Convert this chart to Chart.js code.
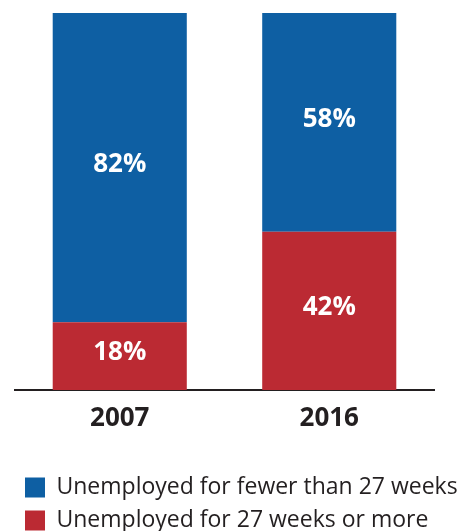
<!DOCTYPE html>
<html>
<head>
<meta charset="utf-8">
<script src="https://cdn.jsdelivr.net/npm/chart.js@4"></script>
<style>
  html, body { margin: 0; padding: 0; background: #fff; }
  #wrap { width: 467px; height: 531px; position: relative; }
</style>
</head>
<body>
<div id="wrap"><canvas id="chart"></canvas></div>
<script>
const years = ['2007', '2016'];
const shortTerm = [82, 58];   // fewer than 27 weeks, %
const longTerm = [18, 42];    // 27 weeks or more, %
const seriesNames = ['Unemployed for fewer than 27 weeks', 'Unemployed for 27 weeks or more'];

const BLUE = '#0e5fa3';
const RED = '#bb2a33';
const INK = '#231f20';
const FONT = '"Open Sans", sans-serif';

// white percentage in the middle of each stacked segment
const barLabels = {
  id: 'barLabels',
  afterDatasetsDraw(chart) {
    const ctx = chart.ctx;
    ctx.save();
    ctx.fillStyle = '#fff';
    ctx.font = 'bold 26px ' + FONT;
    ctx.textAlign = 'center';
    ctx.textBaseline = 'middle';
    chart.data.datasets.forEach((ds, i) => {
      chart.getDatasetMeta(i).data.forEach((bar, j) => {
        ctx.fillText(ds.data[j] + '%', bar.x, (bar.y + bar.base) / 2 - 3);
      });
    });
    ctx.restore();
  }
};

new Chart(document.getElementById('chart'), {
  type: 'bar',
  data: {
    labels: years,
    datasets: [
      { label: seriesNames[1], data: longTerm, backgroundColor: RED, borderWidth: 0 },
      { label: seriesNames[0], data: shortTerm, backgroundColor: BLUE, borderWidth: 0 }
    ]
  },
  options: {
    responsive: true,
    maintainAspectRatio: false,
    animation: false,
    layout: { padding: { top: 13, left: 15, right: 0, bottom: 0 } },
    datasets: { bar: { barPercentage: 0.64, categoryPercentage: 1 } },
    scales: {
      x: {
        stacked: true,
        grid: { display: false, drawTicks: false },
        border: { display: true, color: INK, width: 2 },
        ticks: { color: INK, padding: 13, font: { family: FONT, size: 26, weight: 'bold' } },
        afterFit(scale) { scale.height = 76; }
      },
      // hidden value axis, kept only as empty space on the right
      y: {
        stacked: true,
        position: 'right',
        min: 0,
        max: 100,
        grid: { display: false, drawTicks: false },
        border: { display: false },
        ticks: { display: false },
        afterFit(scale) { scale.width = 33; }
      }
    },
    plugins: {
      tooltip: { enabled: false },
      legend: {
        position: 'bottom',
        align: 'start',
        reverse: true,
        maxHeight: 65,
        labels: {
          boxWidth: 20,
          boxHeight: 20,
          padding: 10,
          color: INK,
          font: { family: FONT, size: 23 }
        }
      }
    }
  },
  plugins: [barLabels]
});
</script>
</body>
</html>
